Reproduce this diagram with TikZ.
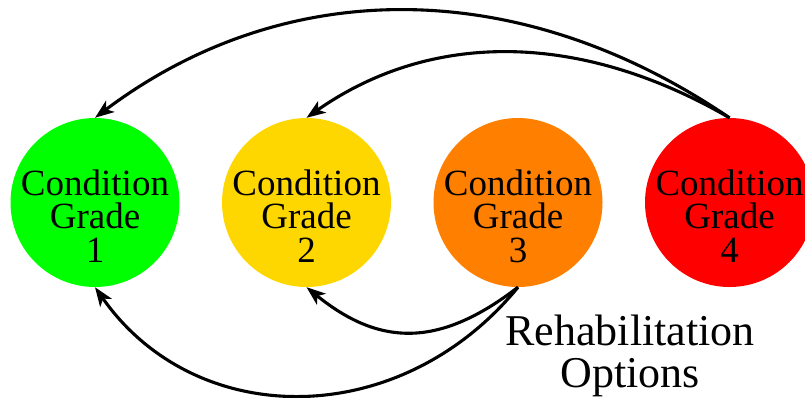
\documentclass[tikz,border=0pt]{standalone}
\usepackage{fontspec}
\setmainfont{Liberation Serif}
\usetikzlibrary{arrows.meta}
\definecolor{cgreen}{RGB}{0,255,0}
\definecolor{cyellow}{RGB}{255,215,0}
\definecolor{corange}{RGB}{255,128,0}
\definecolor{cred}{RGB}{255,0,0}
\begin{document}
\begin{tikzpicture}[x=1pt,y=-1pt,
  grade/.style={circle,minimum size=169pt,inner sep=0pt,draw=none},
  gradetext/.style={align=center,inner sep=0pt,yshift=-13.5pt,
    font=\fontsize{37}{33.5}\selectfont},
  optlabel/.style={align=center,inner sep=0pt,
    font=\fontsize{44}{42}\selectfont},
  flow/.style={line width=3.1pt,-{Stealth[length=19pt,width=14pt,inset=5pt]}}
]
\useasboundingbox (0,0) rectangle (805,397);

% condition grade circles
\node[grade,fill=cgreen]  (c1) at (95,202.5) {};
\node[grade,fill=cyellow] (c2) at (306.5,202.5) {};
\node[grade,fill=corange] (c3) at (518,202.5) {};
\node[grade,fill=cred]    (c4) at (729.5,202.5) {};

\node[gradetext] (t1) at (c1) {Condition\\Grade\\1};
\node[gradetext] (t2) at (c2) {Condition\\Grade\\2};
\node[gradetext] (t3) at (c3) {Condition\\Grade\\3};
\node[gradetext] (t4) at (c4) {Condition\\Grade\\4};

\node[optlabel] (opt) at (630,356) {Rehabilitation\\Options};

% transitions from grade 4 (over the top)
\draw[flow] (c4.north) .. controls +(-210,-143) and +(190,-143) .. (c1.north);
\draw[flow] (c4.north) .. controls +(-150,-87) and +(124,-87) .. (c2.north);

% rehabilitation transitions from grade 3 (underneath)
\draw[flow] (c3.south) .. controls +(-78,60) and +(74,60) .. (c2.south);
\draw[flow] (c3.south) .. controls +(-118,144) and +(101,144) .. (c1.south);
\end{tikzpicture}
\end{document}
